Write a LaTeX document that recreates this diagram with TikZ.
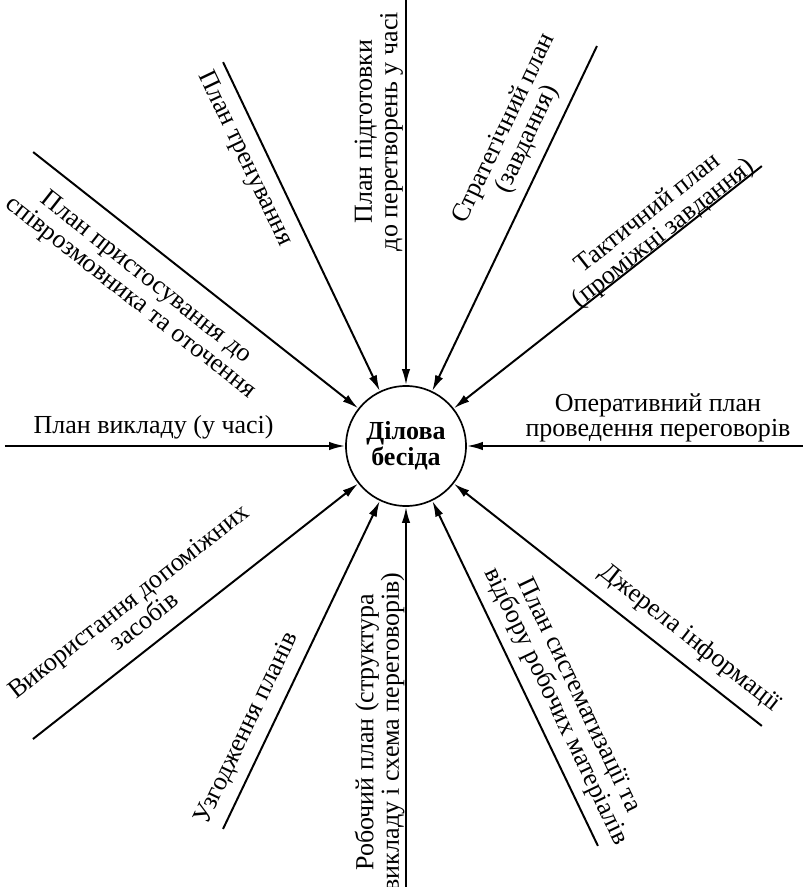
\documentclass[tikz,border=0pt]{standalone}
\usepackage{fontspec}
\setmainfont{Liberation Serif}
\usetikzlibrary{arrows.meta}

\begin{document}
\begin{tikzpicture}[>={Latex[length=4mm,width=2.1mm]},line width=1.4pt,
	lab/.style={align=center,inner sep=0pt,font=\fontsize{18.5}{18}\selectfont}]

\useasboundingbox (-10.15,-11.025) rectangle (9.925,11.15);

\node[circle,draw,line width=1.2pt,minimum size=3cm,inner sep=0pt,align=center,
	font=\fontsize{18.5}{16}\selectfont\bfseries] (hub) at (0,0) {Ділова\\бесіда};

% spokes: name/angle/length
\foreach \n/\a/\r in {top/90/11.15, str/64.48/11.08, tak/38.19/11.32, opr/0/9.925,
	dzh/-38.19/11.32, sys/-64.36/11.09, rob/-90/11.025, uzg/-115.54/10.61,
	vyk/-141.85/11.86, vkl/180/10.025, prs/141.75/11.87, trn/115.48/10.63}{
	\coordinate (\n) at (\a:\r);
	\draw[->] (\n) -- (hub);
}

% labels
\node[lab,rotate=90] (l-top) at (-0.68,7.86) {План підготовки\\до перетворень у часі};
\node[lab,rotate=64.5] (l-str) at (2.75,7.8) {Стратегічний план\\(завдання)};
\node[lab,rotate=38.2] (l-tak) at (6.25,5.55) {Тактичний план\\(проміжні завдання)};
\node[lab] (l-opr) at (6.3,0.7) {Оперативний план\\проведення переговорів};
\node[lab,rotate=-38.2] (l-dzh) at (7.1,-4.81) {Джерела інформації};
\node[lab,rotate=-64.4] (l-sys) at (4.02,-6.38) {План систематизації та\\відбору робочих матеріалів};
\node[lab,rotate=90] (l-rob) at (-0.66,-7.15) {Робочий план (структура\\викладу і схема переговорів)};
\node[lab,rotate=64.5] (l-uzg) at (-3.975,-7.06) {Узгодження планів};
\node[lab,rotate=38.2] (l-vyk) at (-6.75,-4.12) {Використання допоміжних\\засобів};
\node[lab] (l-vkl) at (-6.31,0.47) {План викладу (у часі)};
\node[lab,rotate=-38.2] (l-prs) at (-6.7,3.95) {План пристосування до\\співрозмовника та оточення};
\node[lab,rotate=-64.5] (l-trn) at (-4.025,7.175) {План тренування};

\end{tikzpicture}
\end{document}
